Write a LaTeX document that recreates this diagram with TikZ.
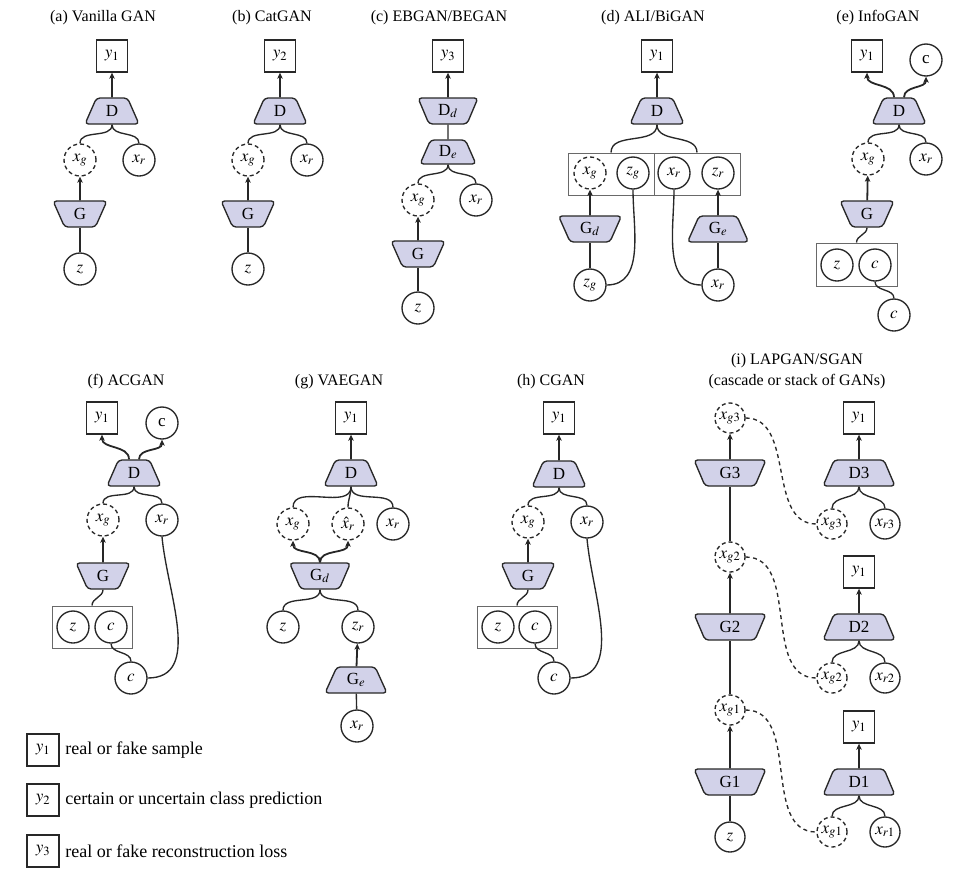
\documentclass[tikz,border=0pt]{standalone}
\usepackage{mathptmx}
\usepackage{fontspec}
\setmainfont{Liberation Serif}
\usetikzlibrary{shapes.geometric,arrows.meta}

\definecolor{netfill}{RGB}{210,210,233}
\definecolor{linec}{RGB}{40,40,40}
\definecolor{boxc}{RGB}{105,105,105}

\tikzset{every picture/.style={line width=1.35pt}}
\tikzset{
  dnet/.style={trapezium, trapezium angle=68, trapezium stretches=true, draw=linec, fill=netfill,
    rounded corners=3.5pt, minimum width=54, minimum height=26, inner sep=0pt, font=\fontsize{17}{20}\selectfont},
  gnet/.style={dnet, shape border rotate=180},
  var/.style={circle, draw=linec, minimum size=32, inner sep=0pt, font=\fontsize{17}{20}\selectfont},
  gen/.style={var, dash pattern=on 4pt off 3pt},
  outbox/.style={draw=linec, minimum width=31, minimum height=32, inner sep=0pt, font=\fontsize{17}{20}\selectfont},
  pairbox/.style={draw=boxc, line width=1pt, minimum width=81, minimum height=43, inner sep=0pt},
  flow/.style={draw=black!85, line width=1.8pt, -{Stealth[length=6pt,width=5.5pt,inset=1.5pt]}},
  link/.style={draw=linec},
  sidelink/.style={draw=linec, dash pattern=on 4pt off 3.5pt},
  heading/.style={inner sep=0.75pt, align=center},
}

\begin{document}
\begin{tikzpicture}[x=1pt,y=-1pt,font=\fontsize{16}{21}\selectfont]
\useasboundingbox (0,0) rectangle (965,884);

%Panel (a)
\node[heading] (tA) at (103,18) {(a) Vanilla GAN};
\node[outbox] (yA) at (112,56) {$y_1$};
\node[dnet] (dA) at (112,111) {D};
\node[gen] (xgA) at (80,160) {$x_g$};
\node[var] (xrA) at (139,160) {$x_r$};
\node[gnet] (gA) at (80,214) {G};
\node[var] (zA) at (80,269) {$z$};
\draw[flow] (dA) -- (yA);
\draw[link] (dA.south) to[out=-90,in=90] (xgA.north);
\draw[link] (dA.south) to[out=-90,in=90] (xrA.north);
\draw[flow] (gA) -- (xgA);
\draw[link] (zA) -- (gA);

%Panel (b)
\node[heading] (tB) at (272,18) {(b) CatGAN};
\node[outbox] (yB) at (280,56) {$y_2$};
\node[dnet] (dB) at (280,111) {D};
\node[gen] (xgB) at (248,160) {$x_g$};
\node[var] (xrB) at (307,160) {$x_r$};
\node[gnet] (gB) at (248,214) {G};
\node[var] (zB) at (248,269) {$z$};
\draw[flow] (dB) -- (yB);
\draw[link] (dB.south) to[out=-90,in=90] (xgB.north);
\draw[link] (dB.south) to[out=-90,in=90] (xrB.north);
\draw[flow] (gB) -- (xgB);
\draw[link] (zB) -- (gB);

%Panel (c)
\node[heading] (tC) at (439,18) {(c) EBGAN/BEGAN};
\node[outbox] (yC) at (448,56) {$y_3$};
\node[gnet, minimum width=60] (ddC) at (448,111) {D$_d$};
\node[dnet, minimum width=56, minimum height=24] (deC) at (448,152) {D$_e$};
\node[gen] (xgC) at (418,200) {$x_g$};
\node[var] (xrC) at (476,200) {$x_r$};
\node[gnet] (gC) at (418,254) {G};
\node[var] (zC) at (418,308) {$z$};
\draw[flow] (ddC) -- (yC);
\draw[link] (deC) -- (ddC);
\draw[link] (deC.south) to[out=-90,in=90] (xgC.north);
\draw[link] (deC.south) to[out=-90,in=90] (xrC.north);
\draw[flow] (gC) -- (xgC);
\draw[link] (zC) -- (gC);

%Panel (d)
\node[heading] (tD) at (653,18) {(d) ALI/BiGAN};
\node[outbox] (yD) at (657,56) {$y_1$};
\node[dnet] (dD) at (657,111) {D};
\node[pairbox, minimum width=86, minimum height=42] (blD) at (611,174) {};
\node[pairbox, minimum width=86, minimum height=42] (brD) at (697,174) {};
\node[gen] (xgD) at (590,173) {$x_g$};
\node[var] (zgD) at (633,173) {$z_g$};
\node[var] (xrD) at (674,173) {$x_r$};
\node[var] (zrD) at (718,173) {$z_r$};
\node[gnet, minimum width=63] (gdD) at (590,229) {G$_d$};
\node[dnet, minimum width=61] (geD) at (718,229) {G$_e$};
\node[var] (zsD) at (590,285) {$z_g$};
\node[var] (xsD) at (718,285) {$x_r$};
\draw[flow] (dD) -- (yD);
\draw[link] (dD.south) to[out=-90,in=90] (blD.north);
\draw[link] (dD.south) to[out=-90,in=90] (brD.north);
\draw[flow] (gdD) -- (xgD);
\draw[link] (zsD) -- (gdD);
\draw[link] (zsD.east) to[out=0,in=-90] (zgD.south);
\draw[flow] (geD) -- (zrD);
\draw[link] (xsD) -- (geD);
\draw[link] (xsD.west) to[out=180,in=-90] (xrD.south);

%Panel (e)
\node[heading] (tE) at (878,18) {(e) InfoGAN};
\node[outbox] (yE) at (867,56) {$y_1$};
\node[var] (cE) at (926,60) {c};
\node[dnet] (dE) at (899,111) {D};
\node[gen] (xgE) at (868,159) {$x_g$};
\node[var] (xrE) at (926,159) {$x_r$};
\node[gnet] (gE) at (867,214) {G};
\node[pairbox] (bE) at (856.5,264.5) {};
\node[var] (zE) at (837,265) {$z$};
\node[var] (ciE) at (875,265) {$c$};
\node[var] (csE) at (894,315) {$c$};
\draw[flow] ([xshift=-5pt]dE.north) to[out=90,in=-90] (yE.south);
\draw[flow] ([xshift=5pt]dE.north) to[out=90,in=-90] (cE.south);
\draw[link] (dE.south) to[out=-90,in=90] (xgE.north);
\draw[link] (dE.south) to[out=-90,in=90] (xrE.north);
\draw[flow] (gE) -- (xgE);
\draw[link] (gE.south) to[out=-90,in=90] (bE.north);
\draw[link] (ciE.south) to[out=-90,in=90] (csE.north);

%Panel (f)
\node[heading] (tF) at (126,382) {(f) ACGAN};
\node[outbox] (yF) at (102,418) {$y_1$};
\node[var] (cF) at (162,423) {c};
\node[dnet] (dF) at (134,473) {D};
\node[gen] (xgF) at (103,520) {$x_g$};
\node[var] (xrF) at (162,520) {$x_r$};
\node[gnet] (gF) at (103,576) {G};
\node[pairbox, minimum width=80, minimum height=42] (bF) at (92,627) {};
\node[var] (zF) at (73,627) {$z$};
\node[var] (ciF) at (111,627) {$c$};
\node[var] (csF) at (131,678) {$c$};
\draw[flow] ([xshift=-5pt]dF.north) to[out=90,in=-90] (yF.south);
\draw[flow] ([xshift=5pt]dF.north) to[out=90,in=-90] (cF.south);
\draw[link] (dF.south) to[out=-90,in=90] (xgF.north);
\draw[link] (dF.south) to[out=-90,in=90] (xrF.north);
\draw[flow] (gF) -- (xgF);
\draw[link] (gF.south) to[out=-90,in=90] (bF.north);
\draw[link] (ciF.south) to[out=-90,in=90] (csF.north);
\draw[link] (xrF.south) to[out=-85,in=0] (csF.east);

%Panel (g)
\node[heading] (tG) at (339,382) {(g) VAEGAN};
\node[outbox] (yG) at (351,418) {$y_1$};
\node[dnet] (dG) at (351,473) {D};
\node[gen] (xgG) at (293,524) {$x_g$};
\node[gen] (xhG) at (348,524) {$\hat{x}_r$};
\node[var] (xrG) at (393,524) {$x_r$};
\node[gnet, minimum width=61] (gdG) at (320,576) {G$_d$};
\node[var] (zG) at (283,627) {$z$};
\node[var] (zrG) at (358,627) {$z_r$};
\node[dnet, minimum width=62] (geG) at (356,680) {G$_e$};
\node[var] (xsG) at (357,726) {$x_r$};
\draw[flow] (dG) -- (yG);
\draw[link] (dG.south) to[out=-90,in=90] (xgG.north);
\draw[link] (dG.south) to[out=-90,in=90] (xhG.north);
\draw[link] (dG.south) to[out=-90,in=90] (xrG.north);
\draw[flow] (gdG.north) to[out=90,in=-90] (xgG.south);
\draw[flow] (gdG.north) to[out=90,in=-90] (xhG.south);
\draw[link] (gdG.south) to[out=-90,in=90] (zG.north);
\draw[link] (gdG.south) to[out=-90,in=90] (zrG.north);
\draw[flow] (geG) -- (zrG);
\draw[link] (xsG) -- (geG);

%Panel (h)
\node[heading] (tH) at (551,382) {(h) CGAN};
\node[outbox] (yH) at (559,418) {$y_1$};
\node[dnet] (dH) at (559,474) {D};
\node[gen] (xgH) at (528,522) {$x_g$};
\node[var] (xrH) at (587,522) {$x_r$};
\node[gnet] (gH) at (528,576) {G};
\node[pairbox, minimum width=80, minimum height=42] (bH) at (517,627) {};
\node[var] (zH) at (498,627) {$z$};
\node[var] (ciH) at (535,627) {$c$};
\node[var] (csH) at (554,678) {$c$};
\draw[flow] (dH) -- (yH);
\draw[link] (dH.south) to[out=-90,in=90] (xgH.north);
\draw[link] (dH.south) to[out=-90,in=90] (xrH.north);
\draw[flow] (gH) -- (xgH);
\draw[link] (gH.south) to[out=-90,in=90] (bH.north);
\draw[link] (ciH.south) to[out=-90,in=90] (csH.north);
\draw[link] (xrH.south) to[out=-85,in=0] (csH.east);

%Panel (i)
\node[heading] (tI) at (797,371) {(i) LAPGAN/SGAN\\(cascade or stack of GANs)};
\node[gen, minimum size=30] (xgThree) at (730,418) {$x_{g3}$};
\node[gnet, minimum width=72] (gThree) at (730,473) {G3};
\node[gen, minimum size=30] (xgTwo) at (730,557) {$x_{g2}$};
\node[gnet, minimum width=72] (gTwo) at (730,627) {G2};
\node[gen, minimum size=30] (xgOne) at (730,710) {$x_{g1}$};
\node[gnet, minimum width=72] (gOne) at (730,782) {G1};
\node[var, minimum size=30] (zI) at (730,837) {$z$};
\node[outbox] (yThree) at (859,418) {$y_1$};
\node[dnet, minimum width=72] (dThree) at (859,473) {D3};
\node[gen, minimum size=30] (xfThree) at (832,524) {$x_{g3}$};
\node[var, minimum size=30] (xrThree) at (885,524) {$x_{r3}$};
\node[outbox] (yTwo) at (859,572) {$y_1$};
\node[dnet, minimum width=72] (dTwo) at (859,627) {D2};
\node[gen, minimum size=30] (xfTwo) at (832,678) {$x_{g2}$};
\node[var, minimum size=30] (xrTwo) at (885,678) {$x_{r2}$};
\node[outbox] (yOne) at (859,727) {$y_1$};
\node[dnet, minimum width=72] (dOne) at (859,782) {D1};
\node[gen, minimum size=30] (xfOne) at (832,832) {$x_{g1}$};
\node[var, minimum size=30] (xrOne) at (885,832) {$x_{r1}$};
\draw[flow] (gThree) -- (xgThree);
\draw[link] (xgTwo) -- (gThree);
\draw[flow] (gTwo) -- (xgTwo);
\draw[link] (xgOne) -- (gTwo);
\draw[flow] (gOne) -- (xgOne);
\draw[link] (zI) -- (gOne);
\draw[flow] (dThree) -- (yThree);
\draw[link] (dThree.south) to[out=-90,in=90] (xfThree.north);
\draw[link] (dThree.south) to[out=-90,in=90] (xrThree.north);
\draw[flow] (dTwo) -- (yTwo);
\draw[link] (dTwo.south) to[out=-90,in=90] (xfTwo.north);
\draw[link] (dTwo.south) to[out=-90,in=90] (xrTwo.north);
\draw[flow] (dOne) -- (yOne);
\draw[link] (dOne.south) to[out=-90,in=90] (xfOne.north);
\draw[link] (dOne.south) to[out=-90,in=90] (xrOne.north);
\draw[sidelink] (xgThree.east) to[out=0,in=180] (xfThree.west);
\draw[sidelink] (xgTwo.east) to[out=0,in=180] (xfTwo.west);
\draw[sidelink] (xgOne.east) to[out=0,in=180] (xfOne.west);

%Legend
\node[outbox, minimum width=32] (kOne) at (43,750) {$y_1$};
\node[outbox, minimum width=32] (kTwo) at (43,800) {$y_2$};
\node[outbox, minimum width=32] (kThree) at (43,851) {$y_3$};
\node[anchor=west, inner sep=0.75pt, font=\fontsize{18}{21}\selectfont] (lOne) at (64,750) {real or fake sample};
\node[anchor=west, inner sep=0.75pt, font=\fontsize{18}{21}\selectfont] (lTwo) at (64,800) {certain or uncertain class prediction};
\node[anchor=west, inner sep=0.75pt, font=\fontsize{18}{21}\selectfont] (lThree) at (64,851) {real or fake reconstruction loss};

\end{tikzpicture}
\end{document}
